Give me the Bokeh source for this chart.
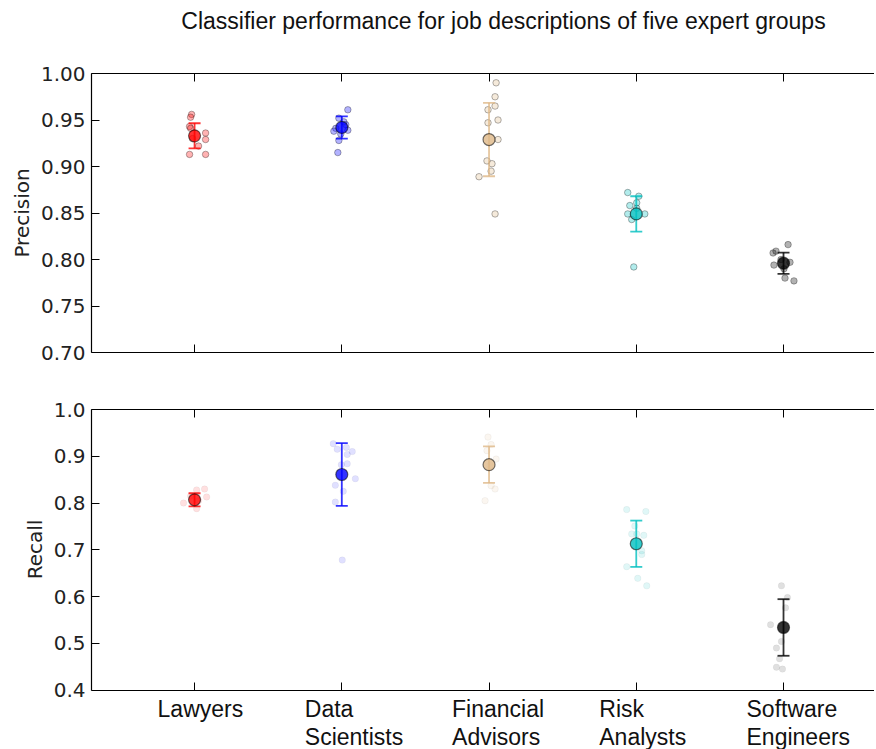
from bokeh.plotting import figure
from bokeh.models import (ColumnDataSource, LinearAxis, FixedTicker, Range1d,
                          CustomLabelingPolicy)
from bokeh.core.properties import value
from bokeh.layouts import column
from bokeh.embed import file_html
from bokeh.resources import INLINE

# ---------------- data ----------------
groups = ["Lawyers", "Data Scientists", "Financial Advisors", "Risk Analysts", "Software Engineers"]
tick_labels = ["Lawyers", "Data\nScientists", "Financial\nAdvisors", "Risk\nAnalysts", "Software\nEngineers"]
group_pos = [1, 2, 3, 4, 5]
colors = ["#ff0000", "#0000ff", "#deb887", "#00bfbf", "#000000"]

title_text = "Classifier performance for job descriptions of five expert groups"

prec_ticks = [0.70, 0.75, 0.80, 0.85, 0.90, 0.95, 1.00]
rec_ticks = [0.4, 0.5, 0.6, 0.7, 0.8, 0.9, 1.0]

# precision: mean and half-width of error bar per group
prec_mean = [0.933, 0.942, 0.929, 0.849, 0.796]
prec_err = [0.0135, 0.012, 0.0395, 0.019, 0.0115]
# recall: mean and half-width of error bar per group
rec_mean = [0.807, 0.861, 0.882, 0.713, 0.534]
rec_err = [0.014, 0.067, 0.039, 0.0495, 0.0605]

# individual fold results (precision) and their horizontal jitter
prec_lawyers = [0.956, 0.953, 0.943, 0.941, 0.936, 0.929, 0.922, 0.913, 0.913, 0.930]
prec_lawyers_dx = [-0.020, -0.027, -0.034, -0.027, 0.075, 0.075, 0.027, -0.034, 0.075, -0.014]
prec_data = [0.961, 0.952, 0.948, 0.941, 0.938, 0.939, 0.928, 0.915, 0.945, 0.935]
prec_data_dx = [0.041, -0.020, 0.014, -0.041, -0.054, 0.041, -0.020, -0.027, 0.027, -0.007]
prec_fin = [0.990, 0.975, 0.965, 0.961, 0.947, 0.950, 0.929, 0.906, 0.903, 0.895, 0.889, 0.849]
prec_fin_dx = [0.048, 0.041, 0.041, -0.007, -0.007, 0.061, 0.061, -0.014, 0.020, 0.014, -0.068, 0.041]
prec_risk = [0.872, 0.868, 0.861, 0.858, 0.849, 0.849, 0.843, 0.792, 0.855]
prec_risk_dx = [-0.058, 0.017, 0.003, -0.044, -0.058, 0.058, -0.031, -0.017, 0.003]
prec_soft = [0.816, 0.807, 0.809, 0.794, 0.797, 0.780, 0.777, 0.800, 0.790]
prec_soft_dx = [0.031, -0.071, -0.051, -0.065, 0.044, 0.010, 0.071, -0.017, 0.003]

# individual fold results (recall) and their horizontal jitter
rec_lawyers = [0.800, 0.830, 0.813, 0.828, 0.788, 0.815, 0.805]
rec_lawyers_dx = [-0.075, 0.068, 0.082, 0.014, 0.014, -0.027, 0.027]
rec_data = [0.927, 0.915, 0.919, 0.904, 0.910, 0.882, 0.884, 0.852, 0.838, 0.825, 0.802, 0.678]
rec_data_dx = [-0.058, -0.031, 0.031, 0.037, 0.071, -0.003, 0.037, 0.092, -0.044, 0.010, -0.044, 0.003]
rec_fin = [0.941, 0.925, 0.912, 0.894, 0.837, 0.830, 0.805, 0.880]
rec_fin_dx = [-0.007, 0.014, -0.014, 0.048, 0.014, 0.041, -0.027, 0.007]
rec_risk = [0.786, 0.782, 0.751, 0.734, 0.734, 0.731, 0.698, 0.690, 0.664, 0.639, 0.623]
rec_risk_dx = [-0.065, 0.065, -0.010, -0.031, 0.003, 0.051, 0.037, 0.037, -0.065, 0.010, 0.071]
rec_soft = [0.623, 0.598, 0.576, 0.540, 0.504, 0.490, 0.467, 0.449, 0.445]
rec_soft_dx = [-0.014, 0.027, 0.014, -0.088, -0.014, -0.048, -0.027, -0.048, -0.007]

prec_points = [prec_lawyers, prec_data, prec_fin, prec_risk, prec_soft]
prec_dx = [prec_lawyers_dx, prec_data_dx, prec_fin_dx, prec_risk_dx, prec_soft_dx]
rec_points = [rec_lawyers, rec_data, rec_fin, rec_risk, rec_soft]
rec_dx = [rec_lawyers_dx, rec_data_dx, rec_fin_dx, rec_risk_dx, rec_soft_dx]

# ---------------- layout / styling ----------------
TICK_FONT = "DejaVu Sans"
TEXT_FONT = "Liberation Sans"
W = 874
LEFT = 91
X_RANGE = (0.3, 5.618)
PANEL_PX = 279            # height of each data frame in pixels
LABEL_ROOM_PX = 59        # room under the recall frame for the category labels
NO_LABELS = "for (const i of indices) { indices.unset(i) }\nreturn indices"
EN_SPACE = "\u2002"       # 10px wide at 20px: used to centre the recall label on its own span


def bare_figure(height, x_range, y_range, **kw):
    p = figure(width=W, height=height, output_backend="svg", toolbar_location=None,
               x_range=x_range, y_range=y_range, min_border_right=0, **kw)
    p.outline_line_color = None
    p.grid.grid_line_color = None
    return p


def spine(fixed=None):
    return LinearAxis(ticker=FixedTicker(ticks=group_pos), fixed_location=fixed,
                      major_tick_in=8, major_tick_out=0,
                      minor_tick_line_color=None,
                      major_label_policy=CustomLabelingPolicy(code=NO_LABELS),
                      major_label_text_font_size="1px",
                      major_label_standoff=0,
                      axis_line_color="black", axis_line_width=1.2,
                      major_tick_line_color="black")


def style_axes(p, ticks, fmt, ylabel, bottom_fixed=None):
    ya = p.yaxis[0]
    ya.ticker = FixedTicker(ticks=ticks)
    ya.bounds = (ticks[0], ticks[-1])
    ya.major_label_overrides = {t: fmt.format(t) for t in ticks}
    ya.major_tick_in = 8
    ya.major_tick_out = 0
    ya.minor_tick_line_color = None
    ya.major_tick_line_color = "black"
    ya.axis_line_color = "black"
    ya.axis_line_width = 1.2
    ya.major_label_text_font = TICK_FONT
    ya.major_label_text_font_size = "20px"
    ya.major_label_text_color = "#222222"
    ya.major_label_standoff = 6
    ya.axis_label = ylabel
    ya.axis_label_text_font = TICK_FONT
    ya.axis_label_text_font_size = "20px"
    ya.axis_label_text_font_style = "normal"
    ya.axis_label_text_color = "#222222"
    ya.axis_label_standoff = 4
    p.add_layout(spine(), "above")
    p.add_layout(spine(bottom_fixed), "below")


def draw_data(p, means, errs, points, dxs, pt_alpha, pt_line_alpha):
    for i, g in enumerate(groups):
        xs = [group_pos[i] + d for d in dxs[i]]
        src = ColumnDataSource(dict(x=xs, y=points[i]))
        p.scatter("x", "y", source=src, size=6.5, fill_color=colors[i], fill_alpha=pt_alpha,
                  line_color="black", line_alpha=pt_line_alpha, line_width=1)
    esrc = ColumnDataSource(dict(
        x=group_pos,
        lo=[m - e for m, e in zip(means, errs)],
        hi=[m + e for m, e in zip(means, errs)],
        m=means,
        c=colors,
    ))
    p.segment(x0="x", y0="lo", x1="x", y1="hi", source=esrc, line_color="c",
              line_width=1.8, line_alpha=0.8)
    p.scatter("x", "lo", source=esrc, marker="dash", size=12, line_color="c",
              line_width=1.8, line_alpha=0.8)
    p.scatter("x", "hi", source=esrc, marker="dash", size=12, line_color="c",
              line_width=1.8, line_alpha=0.8)
    p.scatter("x", "m", source=esrc, size=12, fill_color="c", fill_alpha=0.8,
              line_color="black", line_alpha=0.55, line_width=1.2)


# ---------------- title strip ----------------
TITLE_H = 40
p0 = bare_figure(TITLE_H, Range1d(LEFT, W), Range1d(0, TITLE_H),
                 x_axis_location=None, y_axis_location=None,
                 min_border_left=LEFT, min_border_top=0, min_border_bottom=0)
p0.text(x=[503], y=[TITLE_H - 20], text=[title_text], text_align="center",
        text_baseline="middle", text_font=value(TEXT_FONT), text_font_size="23px",
        text_color="#111111")

# ---------------- top panel: precision ----------------
p1 = bare_figure(33 + PANEL_PX + 14, Range1d(*X_RANGE), Range1d(prec_ticks[0], prec_ticks[-1]),
                 x_axis_location=None, y_axis_location="left",
                 min_border_left=LEFT, min_border_top=33, min_border_bottom=14)
style_axes(p1, prec_ticks, "{:.2f}", "Precision")
draw_data(p1, prec_mean, prec_err, prec_points, prec_dx, 0.3, 0.3)

# ---------------- bottom panel: recall (frame extends below to hold the labels) ----------------
r_lo, r_hi = rec_ticks[0], rec_ticks[-1]
units_per_px = (r_hi - r_lo) / PANEL_PX
p2_bottom = r_lo - LABEL_ROOM_PX * units_per_px
p2 = bare_figure(43 + PANEL_PX + LABEL_ROOM_PX + 2, Range1d(*X_RANGE), Range1d(p2_bottom, r_hi),
                 x_axis_location=None, y_axis_location="left",
                 min_border_left=LEFT, min_border_top=43, min_border_bottom=0)
recall_label = EN_SPACE * round((LABEL_ROOM_PX + 1) / 10) + "Recall"
style_axes(p2, rec_ticks, "{:.1f}", recall_label, bottom_fixed=r_lo)
draw_data(p2, rec_mean, rec_err, rec_points, rec_dx, 0.12, 0.04)

lab_y = r_lo - 6 * units_per_px
lab_src = ColumnDataSource(dict(x=group_pos, y=[lab_y] * len(group_pos), t=tick_labels))
p2.text("x", "y", text="t", source=lab_src, x_offset=-37,
        text_align="left", text_baseline="top", text_font=value(TEXT_FONT),
        text_font_size="23px", text_color="#111111", text_line_height=1.06)

layout = column(p0, p1, p2, spacing=0)
open("out.html", "w").write(file_html(layout, INLINE))
